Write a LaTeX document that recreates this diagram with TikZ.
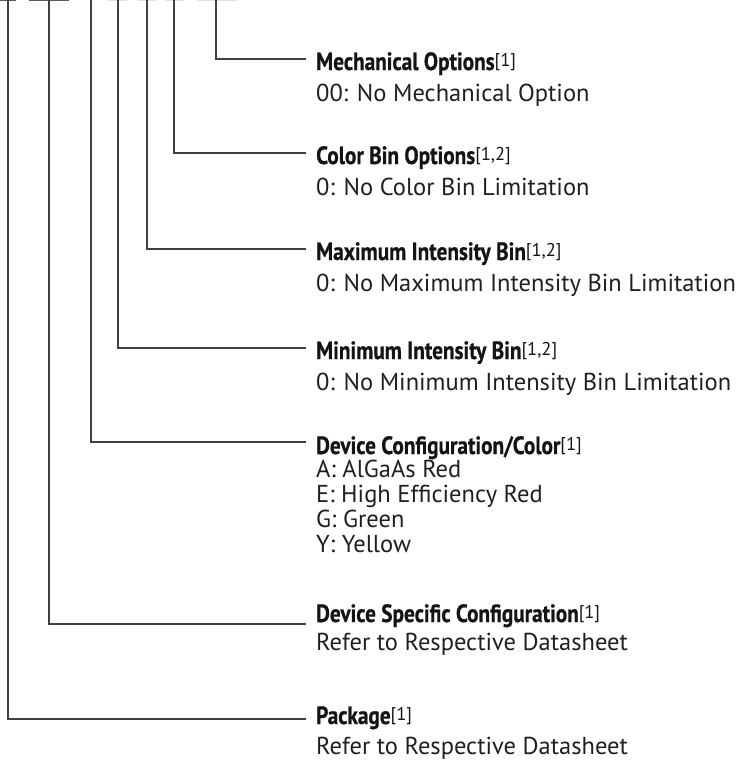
\documentclass[tikz,border=0pt]{standalone}
\usepackage{fontspec}
\setmainfont{PT Sans}
\newfontfamily\condbold[FakeStretch=0.85,FakeBold=0.6]{PT Sans Bold}
\begin{document}
\begin{tikzpicture}[x=1pt,y=-1pt,
  lead/.style={draw=black!75,line width=1.3pt},
  stub/.style={draw=black!65,line width=1.4pt},
  faint/.style={draw=black!12,line width=1.4pt},
  ttl/.style={anchor=base west,inner sep=0pt,font=\condbold\fontsize{25}{27}\selectfont,text=black!92},
  sub/.style={anchor=base west,inner sep=0pt,font=\fontsize{24.5}{27}\selectfont,text=black!88}]
\useasboundingbox (0,0) rectangle (754,761);
\newcommand{\refn}[1]{\raisebox{0.3ex}{\normalfont\fontsize{18.5}{20}\selectfont[#1]}}
% top stubs
\draw[stub] (0,0.7) -- (16,0.7);
\draw[stub] (29,0.7) -- (69,0.7);
\draw[faint] (108,0.7) -- (127,0.7);
\draw[faint] (138,0.7) -- (156,0.7);
\draw[faint] (165,0.7) -- (184,0.7);
\draw[faint] (197,0.7) -- (237,0.7);
% text
\node[ttl] (t1) at (316,70) {Mechanical Options\refn{1}};
\node[sub] (s1) at (316,101) {00: No Mechanical Option};
\node[ttl] (t2) at (316,164) {Color Bin Options\refn{1,2}};
\node[sub] (s2) at (316,195) {0: No Color Bin Limitation};
\node[ttl] (t3) at (316,260) {Maximum Intensity Bin\refn{1,2}};
\node[sub] (s3) at (316,291) {0: No Maximum Intensity Bin Limitation};
\node[ttl] (t4) at (316,359) {Minimum Intensity Bin\refn{1,2}};
\node[sub] (s4) at (316,390) {0: No Minimum Intensity Bin Limitation};
\node[ttl] (t5) at (316,454) {Device Configuration/Color\refn{1}};
\node[sub] (s5a) at (316,477) {A: AlGaAs Red};
\node[sub] (s5b) at (316,502) {E: High Efficiency Red};
\node[sub] (s5c) at (316,527) {G: Green};
\node[sub] (s5d) at (316,552) {Y: Yellow};
\node[ttl] (t6) at (316,622) {Device Specific Configuration\refn{1}};
\node[sub] (s6) at (316,650) {Refer to Respective Datasheet};
\node[ttl] (t7) at (316,724) {Package\refn{1}};
\node[sub] (s7) at (316,754) {Refer to Respective Datasheet};
% leader coordinates
\coordinate (a1) at (216,0); \coordinate (b1) at (306,59);
\coordinate (a2) at (174,0); \coordinate (b2) at (306,153);
\coordinate (a3) at (147,0); \coordinate (b3) at (306,249);
\coordinate (a4) at (118,0); \coordinate (b4) at (306,348);
\coordinate (a5) at (91,0);  \coordinate (b5) at (306,442);
\coordinate (a6) at (49,0);  \coordinate (b6) at (306,624);
\coordinate (a7) at (8,0);   \coordinate (b7) at (306,719);
\foreach \i in {1,...,7} {\draw[lead] (a\i) |- (b\i);}
\end{tikzpicture}
\end{document}
